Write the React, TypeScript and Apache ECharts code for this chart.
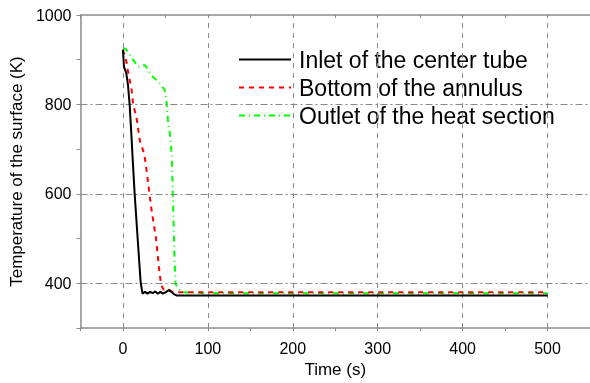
import React, { useEffect, useRef } from "react";
import * as echarts from "echarts";

const inletTime = [0, 1.2, 3.9, 5.9, 7.9, 9.9, 11.7, 13.7, 17.6, 20.8, 23, 26, 29, 32, 35, 38, 41, 44, 47, 50, 54, 57, 60, 63, 100, 200, 300, 400, 500];
const inletTemp = [922, 884, 870, 844, 799, 733, 670, 603, 492, 403, 377, 381, 377, 381, 378, 382, 377, 381, 377, 380, 385, 381, 376, 373, 373, 373, 373, 373, 373];

const bottomTime = [0, 4, 6, 10, 12, 16, 20, 25, 28, 33, 39, 43, 45, 48, 53, 57, 65, 100, 200, 300, 400, 500];
const bottomTemp = [923, 896, 873, 836, 800, 770, 718, 690, 650, 573, 499, 425, 396, 386, 388, 382, 380, 380, 380, 380, 380, 380];

const outletTime = [0, 3, 12, 18, 26, 33, 43, 49, 51, 53, 56, 57.5, 58.7, 60.7, 62, 65, 70, 100, 200, 300, 400, 500];
const outletTemp = [924, 925, 900, 884, 888, 866, 848, 833, 814, 762, 725, 680, 603, 455, 399, 388, 380, 378, 378, 378, 378, 378];

const xLabels = [0, 100, 200, 300, 400, 500];
const xMinorTicks = [-50, 0, 50, 100, 150, 200, 250, 300, 350, 400, 450, 500, 550];
const yLabels = [400, 600, 800, 1000];
const yTicks = [300, 400, 500, 600, 700, 800, 900, 1000];
const yGrid = [400, 600, 800];

const seriesNames = ["Inlet of the center tube", "Bottom of the annulus", "Outlet of the heat section"];

const zip = (t: number[], v: number[]) => t.map((x, i) => [x, v[i]]);

export default function App() {
  const ref = useRef<HTMLDivElement>(null);
  useEffect(() => {
    if (!ref.current) return;
    const chart = echarts.init(ref.current, null, { renderer: "svg" });
    const axisColor = "#8a8a8a";
    const font = "'Liberation Sans', Arial, sans-serif";
    const xBase = { type: "value", min: -50, max: 550 };
    chart.setOption({
      animation: false,
      textStyle: { fontFamily: font },
      grid: { left: 80, top: 15, width: 511, height: 316 },
      legend: {
        orient: "vertical",
        left: 233,
        top: 43,
        itemWidth: 52,
        itemHeight: 14,
        itemGap: 5,
        data: seriesNames,
        itemStyle: { opacity: 0 },
        textStyle: { fontSize: 23, color: "#000", fontFamily: font, lineHeight: 23, padding: [0, 0, 0, 3] },
      },
      xAxis: [
        {
          ...xBase,
          position: "bottom",
          name: "Time (s)",
          nameLocation: "middle",
          nameGap: 29,
          nameTextStyle: { fontSize: 17, color: "#000", fontFamily: font },
          axisLine: { show: true, onZero: false, lineStyle: { color: axisColor, width: 1.5 } },
          axisTick: { show: true, inside: true, length: 5, customValues: xLabels, lineStyle: { color: axisColor } },
          axisLabel: { customValues: xLabels, fontSize: 16, color: "#000", margin: 12, fontFamily: font, formatter: (v: number) => String(v) },
          splitLine: { show: false },
        },
        {
          ...xBase,
          position: "bottom",
          axisLine: { show: false, onZero: false },
          axisTick: { show: true, inside: false, length: 3, customValues: xMinorTicks, lineStyle: { color: axisColor } },
          axisLabel: { show: false },
          splitLine: { show: false },
        },
        {
          ...xBase,
          position: "top",
          axisLine: { show: true, onZero: false, lineStyle: { color: axisColor, width: 1.5 } },
          axisTick: { show: true, inside: true, length: 3, customValues: xMinorTicks, lineStyle: { color: axisColor } },
          axisLabel: { show: false },
          splitLine: { show: false },
        },
      ],
      yAxis: {
        type: "value",
        min: 300,
        max: 1000,
        name: "Temperature of the surface (K)",
        nameLocation: "middle",
        nameRotate: 90,
        nameGap: 51,
        nameTextStyle: { fontSize: 17, color: "#000", fontFamily: font },
        axisLine: { show: true, onZero: false, lineStyle: { color: axisColor, width: 1.5 } },
        axisTick: { show: true, inside: false, length: 4, customValues: yTicks, lineStyle: { color: axisColor } },
        axisLabel: { customValues: yLabels, fontSize: 16, color: "#000", margin: 9, fontFamily: font, formatter: (v: number) => String(v) },
        splitLine: { show: false },
      },
      series: [
        {
          type: "line",
          name: "grid",
          data: [],
          silent: true,
          z: 1,
          markLine: {
            silent: true,
            symbol: ["none", "none"],
            label: { show: false },
            emphasis: { disabled: true },
            lineStyle: { color: "#888", width: 1, type: [5, 5] },
            data: [
              ...xLabels.map((v) => ({ xAxis: v })),
              ...yGrid.map((v) => ({ yAxis: v, lineStyle: { color: "#888", width: 1, type: [7, 3, 2, 3] } })),
            ],
          },
        },
        {
          type: "line",
          name: seriesNames[0],
          data: zip(inletTime, inletTemp),
          showSymbol: false,
          symbol: "none",
          z: 5,
          lineStyle: { color: "#000", width: 2 },
          itemStyle: { color: "#000" },
        },
        {
          type: "line",
          name: seriesNames[1],
          data: zip(bottomTime, bottomTemp),
          showSymbol: false,
          symbol: "none",
          z: 4,
          lineStyle: { color: "#ff0000", width: 2, type: [5, 5] },
          itemStyle: { color: "#ff0000" },
        },
        {
          type: "line",
          name: seriesNames[2],
          data: zip(outletTime, outletTemp),
          showSymbol: false,
          symbol: "none",
          z: 3,
          lineStyle: { color: "#00ff00", width: 2, type: [6, 4, 1, 4] },
          itemStyle: { color: "#00ff00" },
        },
      ],
    });
    return () => chart.dispose();
  }, []);
  return <div ref={ref} style={{ position: "fixed", left: 0, top: 0, width: 590, height: 383 }} />;
}
